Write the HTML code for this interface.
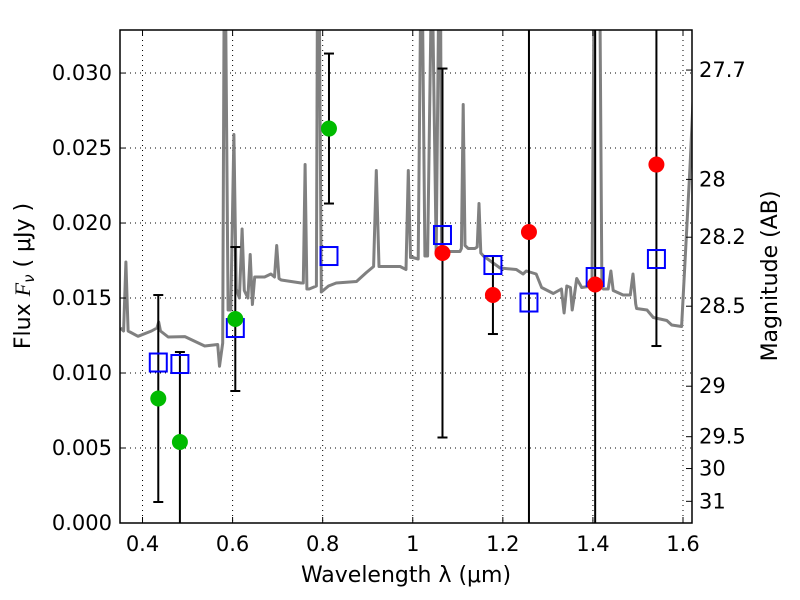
<!DOCTYPE html>
<html><head><meta charset="utf-8"><style>
html,body{margin:0;padding:0;background:#fff;width:800px;height:600px;overflow:hidden;}
svg{display:block;}
svg text{font-family:"DejaVu Sans","Liberation Sans",sans-serif;}
</style></head><body>
<svg id="chart" width="800" height="600" viewBox="0 0 800 600" xmlns="http://www.w3.org/2000/svg">
<defs><clipPath id="clip"><rect x="120" y="30" width="572" height="493"/></clipPath></defs>
<rect x="0" y="0" width="800" height="600" fill="#fff"/>
<g id="grid"></g>
<g id="spec" clip-path="url(#clip)"></g>
<g id="marks" clip-path="url(#clip)"></g>
<rect x="120" y="30" width="572" height="493" fill="none" stroke="#000" stroke-width="1.5"/>
<g id="axes"></g>
<text x="406" y="582" font-size="22" text-anchor="middle">Wavelength  λ (μm)</text>
<text transform="translate(30,276) rotate(-90)" font-size="22" text-anchor="middle">Flux  <tspan font-style="italic" font-family="Liberation Serif, serif">F</tspan><tspan font-size="15" dy="4" font-style="italic">ν</tspan><tspan dy="-4">   ( μJy )</tspan></text>
<text transform="translate(777,276) rotate(-90)" font-size="22" text-anchor="middle">Magnitude (AB)</text>
</svg>
<script>
const specWl = [0.351,0.358,0.363,0.368,0.39,0.42,0.432,0.436,0.44,0.457,0.494,0.538,0.567,0.571,0.578,0.581,0.585,0.590,0.596,0.603,0.608,0.615,0.621,0.626,0.634,0.639,0.644,0.649,0.671,0.685,0.693,0.698,0.703,0.708,0.752,0.757,0.761,0.765,0.770,0.786,0.788,0.793,0.797,0.813,0.830,0.875,0.897,0.913,0.919,0.925,0.959,0.972,0.985,0.990,0.995,1.0,1.012,1.017,1.022,1.027,1.033,1.040,1.045,1.052,1.057,1.062,1.064,1.08,1.105,1.108,1.112,1.116,1.123,1.138,1.143,1.147,1.151,1.157,1.194,1.23,1.245,1.252,1.274,1.286,1.312,1.330,1.336,1.342,1.350,1.354,1.358,1.364,1.375,1.398,1.402,1.407,1.412,1.416,1.420,1.423,1.434,1.440,1.445,1.467,1.483,1.489,1.495,1.497,1.52,1.534,1.564,1.575,1.597,1.616,1.625];
const specFlux = [0.0130,0.0128,0.0174,0.0128,0.01245,0.0128,0.0130,0.0134,0.0128,0.0124,0.01243,0.0118,0.0119,0.01045,0.0120,0.05,0.05,0.0142,0.0142,0.0259,0.0156,0.0150,0.0196,0.0155,0.0150,0.0179,0.01457,0.0164,0.0164,0.0166,0.0164,0.0185,0.0163,0.0162,0.0160,0.0160,0.0239,0.0156,0.0156,0.0158,0.05,0.05,0.0154,0.0158,0.0160,0.0161,0.0167,0.0171,0.0235,0.0171,0.0171,0.0171,0.0169,0.0235,0.0177,0.0177,0.0176,0.05,0.05,0.0178,0.0178,0.05,0.05,0.0180,0.05,0.05,0.0183,0.0181,0.0181,0.0183,0.0279,0.0185,0.0183,0.0183,0.0184,0.0213,0.0180,0.0178,0.0170,0.0169,0.0166,0.0168,0.0166,0.0157,0.0153,0.0156,0.0140,0.0158,0.0157,0.0142,0.0150,0.0163,0.0157,0.0158,0.05,0.05,0.05,0.05,0.0157,0.0156,0.0156,0.0168,0.0155,0.0152,0.0152,0.0166,0.0146,0.0143,0.0142,0.0137,0.0135,0.0132,0.0131,0.0240,0.0300];
const greenWl = [0.435,0.483,0.606,0.814];
const greenFlux = [0.0083,0.0054,0.0136,0.0263];
const greenLo = [0.0014,-0.005,0.0088,0.0213];
const greenHi = [0.0152,0.0114,0.0184,0.0313];
const redWl = [1.066,1.178,1.258,1.405,1.541];
const redFlux = [0.0180,0.0152,0.0194,0.0159,0.0239];
const redLo = [0.0057,0.0126,-0.01,-0.01,0.0118];
const redHi = [0.0303,0.0178,0.05,0.05,0.05];
const modelWl = [0.435,0.483,0.606,0.814,1.066,1.178,1.258,1.405,1.541];
const modelFlux = [0.0107,0.0106,0.0130,0.0178,0.0192,0.0172,0.0147,0.0164,0.0176];
const xTicks = [0.4,0.6,0.8,1.0,1.2,1.4,1.6];
const xTickLabels = ["0.4","0.6","0.8","1","1.2","1.4","1.6"];
const yTicks = [0,0.005,0.010,0.015,0.020,0.025,0.030];
const yTickLabels = ["0.000","0.005","0.010","0.015","0.020","0.025","0.030"];
const magTicks = [27.7,28,28.2,28.5,29,29.5,30,31];
const magLabels = ["27.7","28","28.2","28.5","29","29.5","30","31"];

const X0=120,X1=692,Y0=523,Y1=30,XMIN=0.35,XMAX=1.62,YMIN=0,YMAX=0.03287;
const sx=v=>X0+(v-XMIN)/(XMAX-XMIN)*(X1-X0);
const sy=v=>Y0-(v-YMIN)/(YMAX-YMIN)*(Y0-Y1);
const syc=v=>Math.max(Y1-2,Math.min(Y0+2,sy(v)));
const NS="http://www.w3.org/2000/svg";
function mk(parent,tag,attrs){const e=document.createElementNS(NS,tag);for(const k in attrs)e.setAttribute(k,attrs[k]);parent.appendChild(e);return e;}
const grid=document.getElementById('grid'),axes=document.getElementById('axes'),spec=document.getElementById('spec'),marks=document.getElementById('marks');

xTicks.forEach((t,i)=>{
  const x=sx(t);
  const g=mk(grid,'line',{x1:x,x2:x,y1:Y1,y2:Y0,stroke:'#000','stroke-width':1,'stroke-dasharray':'1,4'});
  
  
  mk(axes,'line',{x1:x,x2:x,y1:Y0,y2:Y0-6,stroke:'#000'});
  mk(axes,'line',{x1:x,x2:x,y1:Y1,y2:Y1+6,stroke:'#000'});
  const tx=mk(axes,'text',{x:x,y:Y0+28,'font-size':21,'text-anchor':'middle'});
  tx.textContent=xTickLabels[i];
  
  
});
yTicks.forEach((t,i)=>{
  const y=sy(t);
  const g=mk(grid,'line',{x1:X0,x2:X1,y1:y,y2:y,stroke:'#000','stroke-width':1,'stroke-dasharray':'1,4'});
  
  
  mk(axes,'line',{x1:X0,x2:X0+6,y1:y,y2:y,stroke:'#000'});
  const tx=mk(axes,'text',{x:X0-8,y:y+7,'font-size':21,'text-anchor':'end'});
  tx.textContent=yTickLabels[i];
  
  
});
magTicks.forEach((m,i)=>{
  const f=Math.pow(10,(23.9-m)/2.5);
  const y=sy(f);
  mk(axes,'line',{x1:X1,x2:X1-6,y1:y,y2:y,stroke:'#000'});
  const tx=mk(axes,'text',{x:X1+7,y:y+7,'font-size':21,'text-anchor':'start'});
  tx.textContent=magLabels[i];
  
  
});

let d='';
specWl.forEach((w,i)=>{d+=(i?'L':'M')+sx(w).toFixed(1)+','+syc(specFlux[i]).toFixed(1);});
const sp=mk(spec,'path',{d:d,fill:'none',stroke:'#808080','stroke-width':3,'stroke-linejoin':'round'});



function errbar(w,lo,hi){
  const x=sx(w);
  const l=mk(marks,'line',{x1:x,x2:x,y1:syc(lo),y2:syc(hi),stroke:'#000','stroke-width':2});
  
  
  [lo,hi].forEach(v=>{if(v>YMIN&&v<YMAX)mk(marks,'line',{x1:x-5,x2:x+5,y1:sy(v),y2:sy(v),stroke:'#000','stroke-width':2});});
}
greenWl.forEach((w,i)=>errbar(w,greenLo[i],greenHi[i]));
redWl.forEach((w,i)=>errbar(w,redLo[i],redHi[i]));
modelWl.forEach((w,i)=>{
  const r=mk(marks,'rect',{x:sx(w)-8.5,y:sy(modelFlux[i])-9,width:17,height:18,fill:'none',stroke:'#0000ff','stroke-width':2});
  
  
});
greenWl.forEach((w,i)=>{
  const c=mk(marks,'circle',{cx:sx(w),cy:sy(greenFlux[i]),r:8,fill:'#00bb00'});
  
  
});
redWl.forEach((w,i)=>{
  const c=mk(marks,'circle',{cx:sx(w),cy:sy(redFlux[i]),r:8,fill:'#ff0000'});
  
  
});
</script>
</body></html>
